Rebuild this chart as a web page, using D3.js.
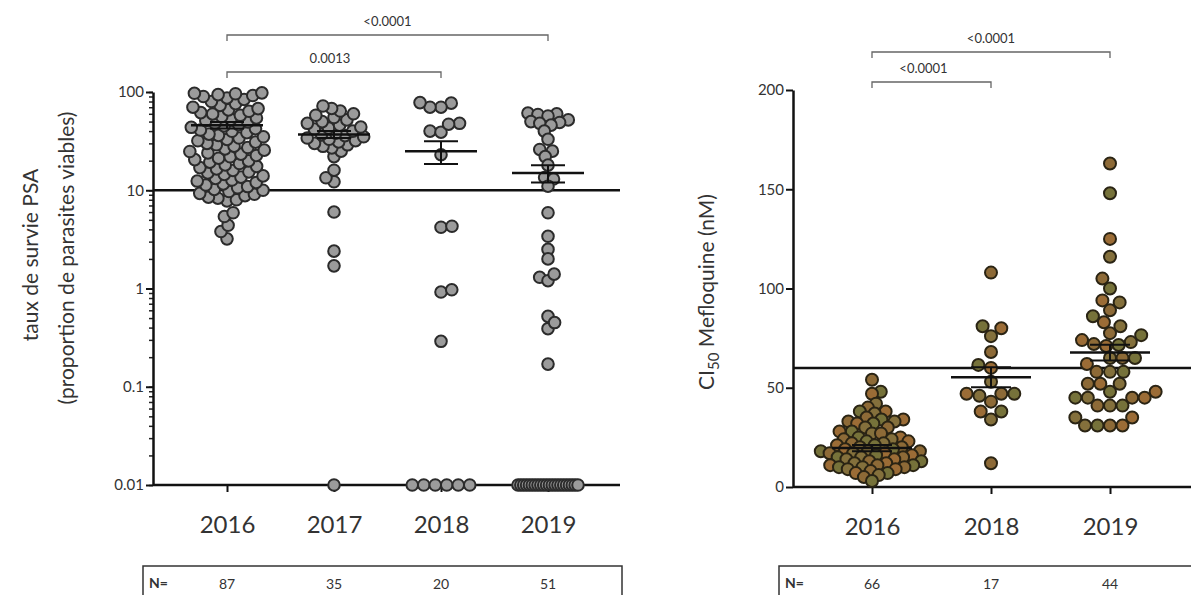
<!DOCTYPE html>
<html>
<head>
<meta charset="utf-8">
<script src="https://cdn.jsdelivr.net/npm/d3@7"></script>
<style>
body { margin: 0; background: #fff; }
text { font-family: Lato, "Open Sans", sans-serif; fill: #333; }
</style>
</head>
<body>
<div id="chart"></div>
<script>
// ---- data ----
var yearsL = ["2016", "2017", "2018", "2019"];
var psa2016 = [3.2, 3.8, 4.4, 5.4, 5.9,
    7.8, 8.0, 8.3, 8.5, 8.8, 9.1, 9.3, 9.7, 10.0, 10.2,
    10.6, 10.9, 11.3, 11.6, 12.0, 12.4, 12.7, 13.2, 13.6, 14.0,
    14.5, 15.0, 15.4, 15.9, 16.5, 17.0, 17.5, 18.1, 18.7, 19.3,
    19.9, 20.5, 21.2, 21.9, 22.6, 23.3, 24.0, 24.8, 25.6, 26.4,
    27.2, 28.1, 29.0, 30.0, 30.9, 31.9, 32.9, 34.0, 35.0, 36.2,
    37.3, 38.5, 39.8, 41.0, 42.3, 43.7, 45.1, 46.5, 48.0, 49.5,
    51.1, 52.7, 54.4, 56.1, 57.9, 59.8, 61.7, 63.6, 65.7, 67.8,
    70, 73, 76, 80, 84, 87, 90, 92, 94, 96, 97, 98];
var psa2017 = [0.01, 1.7, 2.4, 6.0, 12.2, 13.4, 16.0,
    22, 25, 27, 28, 29, 30, 31, 32, 33, 34, 35, 36, 37, 38,
    40, 42, 43, 44, 46, 48, 50, 52, 55, 58, 60, 64, 68, 72];
var psa2018 = [77, 70, 70, 78, 48, 40, 39, 47, 23, 4.2, 4.3, 0.92, 0.97, 0.29,
    0.01, 0.01, 0.01, 0.01, 0.01, 0.01];
var psa2019 = [61, 60, 59, 57, 52, 50, 49, 48, 46, 40,
    33, 26, 25, 22, 18, 13.5, 13, 11,
    5.9, 3.4, 2.5, 2.0, 1.3, 1.2, 1.4, 0.52, 0.39, 0.45, 0.17,
    0.01, 0.01, 0.01, 0.01, 0.01, 0.01, 0.01, 0.01, 0.01, 0.01, 0.01,
    0.01, 0.01, 0.01, 0.01, 0.01, 0.01, 0.01, 0.01, 0.01, 0.01, 0.01];
var meanL = [46, 37, 25, 15];
var semL = [3.5, 3, 6.5, 3];
var cutL = 10;
var sigL = [
    { a: "2016", b: "2019", label: "<0.0001" },
    { a: "2016", b: "2018", label: "0.0013" }
];

var yearsR = ["2016", "2018", "2019"];
var mef2016 = [54, 48, 47, 42, 40, 38, 38, 37, 35, 34, 34, 33, 33, 32, 32,
    30, 30, 28, 28, 27, 27, 25, 25, 24, 24, 23, 23, 22, 22, 21, 21,
    20, 20, 19, 19, 18, 18, 18, 17, 17, 17, 16, 16, 15, 15, 15, 14, 14,
    13, 13, 12, 12, 11, 11, 11, 10, 10, 10, 9, 9, 8, 7, 7, 6, 5, 3];
var mef2018 = [108, 81, 80, 76, 68, 61.5, 60, 53, 47, 47, 47, 46, 43, 38, 38, 34, 12];
var mef2019 = [163, 148, 125, 116, 105, 100, 94, 93, 89, 86, 83, 81, 77.5, 76.5,
    74, 73, 72, 71.5, 71, 65, 65, 65, 62, 58, 58, 58, 52, 52, 52, 48, 48,
    45, 45, 45, 45, 41, 41, 41, 35, 35, 31, 31, 31, 31];
var meanR = [19.6, 55.3, 67.7];
var semR = [1.6, 5, 4];
var cutR = 60;
var sigR = [
    { a: "2016", b: "2019", label: "<0.0001" },
    { a: "2016", b: "2018", label: "<0.0001" }
];

var svg = d3.select("#chart").append("svg")
    .attr("width", 1191)
    .attr("height", 595);

// simple beeswarm: lowest values first, each dot goes to the free spot nearest the centre
function swarm(vals, y, d, rowGap, rowMax) {
    var pts = vals.map(function (v, i) { return { v: v, y: y(v), x: 0, i: i }; });
    var count = {};
    vals.forEach(function (v) { count[v] = (count[v] || 0) + 1; });
    var free = pts.filter(function (p) { return count[p.v] < 5; })
        .sort(function (a, b) { return b.y - a.y; });
    var placed = [];
    free.forEach(function (p, n) {
        var cands = [0];
        placed.forEach(function (q) {
            var dy = Math.abs(q.y - p.y);
            if (dy < d) {
                var dx = Math.sqrt(d * d - dy * dy);
                cands.push(q.x + dx, q.x - dx);
            }
        });
        var side = n % 2 ? 1 : -1;
        cands.sort(function (a, b) { return Math.abs(a) - Math.abs(b) || side * (a - b); });
        for (var k = 0; k < cands.length; k++) {
            var c = cands[k];
            var ok = placed.every(function (q) {
                return (q.x - c) * (q.x - c) + (q.y - p.y) * (q.y - p.y) >= d * d - 0.01;
            });
            if (ok) { p.x = c; break; }
        }
        placed.push(p);
    });
    // values at the detection limit sit on one flat row
    Object.keys(count).forEach(function (key) {
        if (count[key] < 5) return;
        var row = pts.filter(function (p) { return String(p.v) === key; });
        var gap = Math.min(rowGap, 2 * rowMax / (row.length - 1));
        row.forEach(function (p, k) { p.x = (k - (row.length - 1) / 2) * gap; });
    });
    return pts;
}

function panel(o) {
    var g = svg.append("g");
    var left = o.frame[0], right = o.frame[1];
    var y0 = o.y.range()[0];

    // y axis
    if (o.minor) {
        g.append("g")
            .attr("transform", "translate(" + left + ",0)")
            .call(d3.axisLeft(o.y).tickValues(o.minor).tickSize(4).tickFormat(""))
            .call(function (a) { a.select(".domain").remove(); a.selectAll("line").attr("stroke", "#222").attr("stroke-width", 1.5); });
    }
    var ya = g.append("g")
        .attr("transform", "translate(" + left + ",0)")
        .call(d3.axisLeft(o.y).tickValues(o.yticks).tickSize(7).tickSizeOuter(0).tickPadding(2).tickFormat(o.fmt));
    ya.select(".domain").attr("stroke", "#111").attr("stroke-width", 2.5);
    ya.selectAll(".tick line").attr("stroke", "#111").attr("stroke-width", 2);
    ya.selectAll(".tick text").attr("font-size", 15).style("fill", "#333");

    // category ticks and labels
    var xa = g.append("g")
        .attr("transform", "translate(0," + y0 + ")")
        .call(d3.axisBottom(o.x).tickSize(7).tickSizeOuter(0).tickPadding(24));
    xa.select(".domain").remove();
    xa.selectAll(".tick line").attr("stroke", "#111").attr("stroke-width", 2);
    xa.selectAll(".tick text").attr("font-size", 24).style("fill", "#333");

    // baseline and cut-off line
    g.append("line")
        .attr("x1", left).attr("x2", right)
        .attr("y1", y0).attr("y2", y0)
        .attr("stroke", "#111").attr("stroke-width", 2.5);
    g.append("line")
        .attr("x1", left).attr("x2", right)
        .attr("y1", o.y(o.cut)).attr("y2", o.y(o.cut))
        .attr("stroke", "#111").attr("stroke-width", 2.5);

    // dots
    o.series.forEach(function (vals, s) {
        var cx = o.x(o.cats[s]);
        var pts = swarm(vals, o.y, o.d[s], o.rowGap, o.rowMax);
        g.append("g").selectAll("circle")
            .data(pts)
            .join("circle")
            .attr("cx", function (p) { return cx + p.x; })
            .attr("cy", function (p) { return p.y; })
            .attr("r", o.r)
            .attr("fill", function (p) { return o.fill(p.i); })
            .attr("stroke", o.stroke)
            .attr("stroke-width", 2);
    });

    // mean +/- SEM
    o.mean.forEach(function (m, s) {
        var cx = o.x(o.cats[s]);
        var hi = o.y(m + o.sem[s]), lo = o.y(Math.max(m - o.sem[s], o.y.domain()[0]));
        g.append("line").attr("x1", cx - o.mw).attr("x2", cx + o.mw)
            .attr("y1", o.y(m)).attr("y2", o.y(m))
            .attr("stroke", "#111").attr("stroke-width", 2.5);
        g.append("line").attr("x1", cx).attr("x2", cx)
            .attr("y1", hi).attr("y2", lo)
            .attr("stroke", "#111").attr("stroke-width", 2);
        [hi, lo].forEach(function (yy) {
            g.append("line").attr("x1", cx - o.cw).attr("x2", cx + o.cw)
                .attr("y1", yy).attr("y2", yy)
                .attr("stroke", "#111").attr("stroke-width", 2);
        });
    });

    // significance brackets
    o.sig.forEach(function (b, k) {
        var x1 = o.x(b.a), x2 = o.x(b.b), yy = o.sigY[k];
        g.append("path")
            .attr("d", "M" + x1 + "," + (yy + 6) + "V" + yy + "H" + x2 + "V" + (yy + 6))
            .attr("fill", "none").attr("stroke", "#666").attr("stroke-width", 1.3);
        g.append("text")
            .attr("x", (x1 + x2) / 2 + o.sigDx[k]).attr("y", yy - 9)
            .attr("text-anchor", "middle").attr("font-size", 13)
            .text(b.label);
    });

    // N table
    g.append("rect")
        .attr("x", o.table[0]).attr("y", 566)
        .attr("width", o.table[1] - o.table[0]).attr("height", 50)
        .attr("fill", "none").attr("stroke", "#333").attr("stroke-width", 1.5);
    g.append("text")
        .attr("x", o.table[0] + 6).attr("y", 588)
        .attr("font-size", 14).attr("font-weight", "bold")
        .text("N=");
    o.cats.forEach(function (c, s) {
        g.append("text")
            .attr("x", o.x(c)).attr("y", 589)
            .attr("text-anchor", "middle").attr("font-size", 14)
            .text(o.series[s].length);
    });
}

var yL = d3.scaleLog().domain([0.01, 100]).range([485, 92]);
var xL = d3.scalePoint().domain(yearsL).range([227, 548]);
panel({
    x: xL, y: yL, cats: yearsL,
    series: [psa2016, psa2017, psa2018, psa2019],
    frame: [153, 620], table: [143, 622],
    yticks: [0.01, 0.1, 1, 10, 100], fmt: d3.format("~g"),
    minor: yL.ticks(),
    cut: cutL, mean: meanL, sem: semL, mw: 36, cw: 17,
    d: [9.5, 9, 11, 9], r: 5.8, rowGap: 11.5, rowMax: 30,
    fill: function () { return "#9b9b9b"; }, stroke: "#2b2b2b",
    sig: sigL, sigY: [35, 72], sigDx: [0, -4]
});

var yR = d3.scaleLinear().domain([0, 200]).range([487, 90]);
var xR = d3.scalePoint().domain(yearsR).range([872, 1110]);
var browns = ["#8d6a37", "#76723a", "#9b6c36", "#84703c"];
panel({
    x: xR, y: yR, cats: yearsR,
    series: [mef2016, mef2018, mef2019],
    frame: [793, 1191], table: [779, 1200],
    yticks: [0, 50, 100, 150, 200], fmt: d3.format("d"),
    cut: cutR, mean: meanR, sem: semR, mw: 40, cw: 20,
    d: [9, 13, 12.5], r: 6, rowGap: 12, rowMax: 30,
    fill: function (i) { return browns[i % browns.length]; }, stroke: "#2a2414",
    sig: sigR, sigY: [52, 82], sigDx: [0, -8]
});

// y axis titles
svg.append("text")
    .attr("transform", "translate(38,255) rotate(-90)")
    .attr("text-anchor", "middle").attr("font-size", 21)
    .text("taux de survie PSA");
svg.append("text")
    .attr("transform", "translate(74,258) rotate(-90)")
    .attr("text-anchor", "middle").attr("font-size", 21)
    .text("(proportion de parasites viables)");
var t = svg.append("text")
    .attr("transform", "translate(714,292) rotate(-90)")
    .attr("text-anchor", "middle").attr("font-size", 21);
t.append("tspan").text("CI");
t.append("tspan").attr("font-size", 15).attr("dy", 5).text("50");
t.append("tspan").attr("dy", -5).text(" Mefloquine (nM)");
</script>
</body>
</html>
